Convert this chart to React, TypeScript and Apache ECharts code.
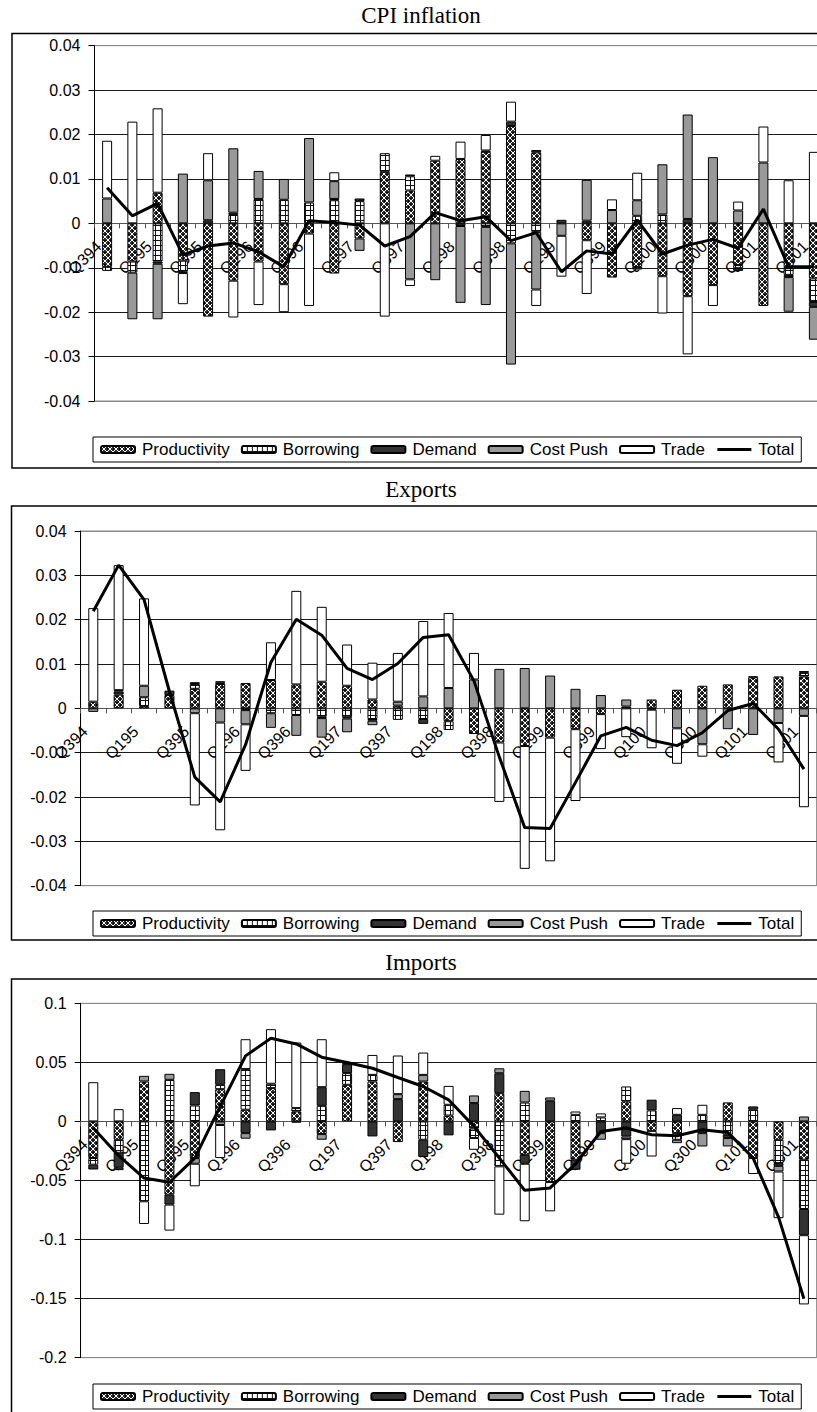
import React, { useEffect, useRef } from "react";
import * as echarts from "echarts";

const categories = [
  "Q394", "Q494", "Q195", "Q295", "Q395", "Q495", "Q196", "Q296", "Q396", "Q496",
  "Q197", "Q297", "Q397", "Q497", "Q198", "Q298", "Q398", "Q498", "Q199", "Q299",
  "Q399", "Q499", "Q100", "Q200", "Q300", "Q400", "Q101", "Q201", "Q301",
];
const componentNames = ["Productivity", "Borrowing", "Demand", "Cost Push", "Trade"];
const totalName = "Total";
const panelTitles = ["CPI inflation", "Exports", "Imports"];

// CPI inflation
const cpiProductivity = [-0.0098, -0.0086, 0.0069, -0.0084, -0.021, -0.0129, -0.0086, -0.0137, -0.0023, -0.0113, -0.0034, 0.0116, 0.0074, 0.0141, 0.0145, 0.0161, 0.0219, 0.016, 0, -0.0038, -0.0122, -0.0098, -0.0119, -0.0164, -0.0139, -0.0094, -0.0186, -0.0101, -0.0124];
const cpiBorrowing = [-0.0009, -0.0025, -0.0086, -0.0025, 0, 0.0019, 0.0055, 0.0053, 0.0047, 0.0052, 0.005, 0.0042, 0.0032, 0, 0, -0.0008, -0.0045, -0.0019, 0, 0, 0, 0.0017, 0.002, 0, 0, -0.0007, 0, -0.0015, -0.0053];
const cpiDemand = [0, 0, -0.0005, -0.0003, 0.0007, 0.0005, 0, 0, 0, 0.0003, 0.0006, 0, 0.0004, 0, -0.0006, 0.0003, 0.001, 0.0005, 0.0008, 0.0006, 0, -0.0006, 0, 0.001, 0, -0.0006, 0, -0.0005, -0.0011];
const cpiCostPush = [0.0056, -0.0105, -0.0125, 0.0112, 0.009, 0.0145, 0.0063, 0.0047, 0.0145, 0.004, -0.0028, 0, -0.0126, -0.0128, -0.0173, -0.0176, -0.0273, -0.013, -0.0028, 0.0092, 0.003, 0.0035, 0.0113, 0.0235, 0.0149, 0.0029, 0.0137, -0.0078, -0.0074];
const cpiTrade = [0.013, 0.0229, 0.019, -0.007, 0.0061, -0.0083, -0.0098, -0.0063, -0.0163, 0.002, 0, -0.021, -0.0015, 0.0011, 0.0039, 0.0035, 0.0045, -0.0037, -0.0092, -0.0121, 0.0024, 0.0062, -0.0084, -0.0131, -0.0047, 0.002, 0.0081, 0.0097, 0.0161];
const cpiTotal = [0.008, 0.0017, 0.0045, -0.0071, -0.0051, -0.0044, -0.0064, -0.0098, 0.0006, 0.0002, -0.0004, -0.0051, -0.003, 0.0024, 0.0006, 0.0015, -0.0039, -0.0021, -0.0109, -0.0062, -0.0069, 0.0008, -0.0069, -0.0049, -0.0036, -0.0056, 0.0032, -0.0098, -0.0098];

// Exports
const exProductivity = [0.0015, 0.0031, 0.0005, 0.003, 0.0044, 0.0055, 0.0057, 0.0064, 0.0054, 0.006, 0.0051, 0.002, 0.0006, 0, -0.0029, -0.0058, -0.0077, -0.0085, -0.0066, -0.0047, -0.0013, 0, 0.002, 0.0042, 0.0051, 0.0054, 0.007, 0.0072, 0.0072];
const exBorrowing = [0, 0, 0.002, 0, 0.0011, 0.0003, 0, -0.0011, -0.0015, -0.0019, -0.002, -0.0024, -0.0026, -0.0024, -0.002, 0, 0, 0, 0, 0, 0, 0, 0, 0, 0, 0, 0, 0, 0.0008];
const exDemand = [0, 0.0007, 0, 0.001, 0.0004, 0.0003, -0.0004, 0, 0, -0.0003, -0.0003, -0.0004, 0, -0.0011, 0, 0, 0, 0, 0, 0, 0, 0.0004, -0.0003, 0, 0, 0, 0.0002, 0, 0.0004];
const exCostPush = [-0.0008, 0.0003, 0.0026, 0, -0.0011, -0.0032, -0.0032, -0.0033, -0.0047, -0.0044, -0.0031, -0.001, 0.0009, 0.0027, 0.0046, 0.0065, 0.0089, 0.0091, 0.0074, 0.0044, 0.003, 0.0016, 0, -0.0045, -0.0081, -0.0047, -0.006, -0.0033, -0.0017];
const exTrade = [0.0211, 0.0282, 0.0197, 0, -0.0208, -0.0243, -0.0105, 0.0085, 0.0211, 0.0169, 0.0093, 0.0083, 0.011, 0.017, 0.0169, 0.006, -0.0134, -0.0277, -0.0279, -0.0162, -0.0079, -0.0065, -0.0087, -0.008, -0.0028, 0, 0, -0.0089, -0.0206];
const exTotal = [0.0219, 0.0323, 0.0245, 0.0038, -0.0155, -0.0211, -0.0082, 0.0104, 0.0201, 0.0165, 0.009, 0.0065, 0.0101, 0.016, 0.0166, 0.0062, -0.011, -0.0269, -0.0271, -0.0167, -0.0062, -0.0043, -0.0072, -0.0084, -0.0055, -0.0005, 0.0011, -0.0047, -0.0137];

// Imports
const imProductivity = [-0.031, -0.0155, 0.0338, -0.062, -0.031, 0.0273, 0.0099, 0.0282, 0.0085, -0.0107, 0.031, 0.0338, -0.0175, 0.0338, 0.005, -0.006, 0.0239, -0.0282, -0.0513, -0.0324, 0, 0.0169, -0.008, -0.0099, 0, 0.0161, -0.031, -0.0155, -0.0324];
const imBorrowing = [-0.0056, -0.011, -0.0676, 0.0352, 0.0135, 0.0037, 0.0344, 0.0037, 0.0028, 0.0132, 0.0099, 0.0056, 0, -0.0155, 0.0091, -0.008, -0.038, 0.016, 0, 0.0056, 0.0034, 0.0127, 0.0093, -0.0056, 0.0056, -0.0113, 0.0099, -0.0198, -0.0417];
const imDemand = [-0.0041, -0.0127, 0, -0.0084, 0.0113, 0.0132, -0.0099, -0.0076, -0.001, 0.0158, 0.0076, -0.0127, 0.0189, -0.0146, -0.0118, 0.0155, 0.0169, -0.0076, 0.0175, -0.0085, -0.0099, -0.0127, 0.0091, 0.0056, -0.0099, -0.0028, 0.0028, -0.0023, -0.0222];
const imCostPush = [0, -0.002, 0.0048, 0.0051, -0.0048, -0.003, -0.0047, 0, 0, -0.0048, 0.0014, 0, 0.0042, 0.0056, 0, 0.0065, 0.0042, 0.0099, 0.0028, 0, -0.0056, -0.0023, 0, -0.0029, -0.0113, -0.0071, 0, -0.0048, 0.0042];
const imTrade = [0.0332, 0.0104, -0.0192, -0.022, -0.0191, -0.028, 0.0253, 0.0462, 0.0555, 0.0406, 0, 0.0169, 0.0327, 0.0189, 0.016, -0.01, -0.0409, -0.0487, -0.0248, 0.0028, 0.0034, -0.0208, -0.0217, 0.0057, 0.0085, 0, -0.0135, -0.0395, -0.0586];
const imTotal = [-0.0056, -0.029, -0.0479, -0.0515, -0.031, 0.0127, 0.0555, 0.0704, 0.0656, 0.0544, 0.0499, 0.045, 0.0372, 0.0296, 0.0183, -0.0042, -0.031, -0.0583, -0.0563, -0.036, -0.0085, -0.0056, -0.0113, -0.0121, -0.007, -0.0093, -0.031, -0.081, -0.1501];

const yRanges = [
  { min: -0.04, max: 0.04, interval: 0.01 },
  { min: -0.04, max: 0.04, interval: 0.01 },
  { min: -0.2, max: 0.1, interval: 0.05 },
];

const SANS = "'Liberation Sans', Arial, sans-serif";
const SERIF = "'Liberation Serif', 'Times New Roman', serif";

function productivityPattern() {
  const c = document.createElement("canvas");
  c.width = 6;
  c.height = 6;
  const ctx = c.getContext("2d")!;
  ctx.fillStyle = "#2a2a2a";
  ctx.fillRect(0, 0, 6, 6);
  ctx.fillStyle = "#ffffff";
  for (let i = 0; i < 6; i++) {
    ctx.fillRect(i, i, 1, 1);
    ctx.fillRect(5 - i, i, 1, 1);
  }
  ctx.fillStyle = "#000000";
  ctx.fillRect(2, 0, 2, 1);
  ctx.fillRect(0, 2, 1, 2);
  return c;
}

function borrowingPattern() {
  const c = document.createElement("canvas");
  c.width = 5;
  c.height = 5;
  const ctx = c.getContext("2d")!;
  ctx.fillStyle = "#ffffff";
  ctx.fillRect(0, 0, 5, 5);
  ctx.fillStyle = "#111111";
  ctx.fillRect(0, 0, 5, 1);
  ctx.fillRect(0, 0, 1, 5);
  return c;
}

export default function App() {
  const ref = useRef<HTMLDivElement>(null);

  useEffect(() => {
    const el = ref.current;
    if (!el) return;
    const chart = echarts.init(el, null, { renderer: "svg" });

    const fills: any[] = [
      { image: productivityPattern(), repeat: "repeat" },
      { image: borrowingPattern(), repeat: "repeat" },
      "#333333",
      "#999999",
      "#ffffff",
    ];

    const panelData = [
      { comps: [cpiProductivity, cpiBorrowing, cpiDemand, cpiCostPush, cpiTrade], total: cpiTotal },
      { comps: [exProductivity, exBorrowing, exDemand, exCostPush, exTrade], total: exTotal },
      { comps: [imProductivity, imBorrowing, imDemand, imCostPush, imTrade], total: imTotal },
    ];

    const layout = [
      { grid: { left: 94.5, top: 45.7, width: 732, height: 355.3 }, box: { x: 12, y: 33.5, width: 830, height: 434.5 }, titleY: 15, legendTop: 437 },
      { grid: { left: 80.6, top: 531, width: 736, height: 354.7 }, box: { x: 11.5, y: 506, width: 830, height: 434 }, titleY: 489, legendTop: 911 },
      { grid: { left: 80.6, top: 1003.3, width: 736, height: 354.4 }, box: { x: 11.5, y: 979, width: 830, height: 450 }, titleY: 962, legendTop: 1384 },
    ];

    const series: any[] = [];
    panelData.forEach((p, gi) => {
      p.comps.forEach((data, k) => {
        series.push({
          name: componentNames[k],
          type: "bar",
          xAxisIndex: gi,
          yAxisIndex: gi,
          stack: "stack" + gi,
          barWidth: 10,
          data: data.map((v) => (v === 0 ? "-" : v)),
          itemStyle: { color: fills[k], borderColor: "#000", borderWidth: 1 },
          emphasis: { disabled: true },
          z: 2,
        });
      });
      series.push({
        name: totalName,
        type: "line",
        xAxisIndex: gi,
        yAxisIndex: gi,
        data: p.total,
        symbol: "none",
        showSymbol: false,
        lineStyle: { color: "#000", width: 3 },
        itemStyle: { color: "#000" },
        emphasis: { disabled: true },
        z: 5,
      });
    });

    const fmt = (v: number) => {
      const r = Number(v.toFixed(2));
      return r === 0 ? "0" : String(r);
    };

    const option: any = {
      animation: false,
      backgroundColor: "#ffffff",
      grid: layout.map((l) => ({
        ...l.grid,
        show: true,
        borderColor: "#8a8a8a",
        borderWidth: 1,
        backgroundColor: "transparent",
      })),
      xAxis: layout.map((l, i) => {
        const r = yRanges[i];
        // place the category axis (line, ticks and labels) at the value 0 of the y axis
        const zeroFromBottom = (l.grid.height * (0 - r.min)) / (r.max - r.min);
        return {
          type: "category",
          gridIndex: i,
          data: categories,
          position: "bottom",
          offset: -zeroFromBottom,
          axisLine: { show: true, onZero: false, lineStyle: { color: "#555", width: 1 } },
          axisTick: { show: true, interval: 0, length: 5, lineStyle: { color: "#555" } },
          axisLabel: {
            interval: 1,
            rotate: 45,
            fontSize: 16,
            fontFamily: SANS,
            color: "#000",
            margin: 12,
            padding: [0, 12, 0, 0],
          },
          splitLine: { show: false },
        };
      }),
      yAxis: yRanges.map((r, i) => {
        const n = Math.round((r.max - r.min) / r.interval);
        const colors: string[] = [];
        for (let j = 0; j <= n; j++) colors.push(j === 0 || j === n ? "#8a8a8a" : "#1a1a1a");
        return {
          type: "value",
          gridIndex: i,
          min: r.min,
          max: r.max,
          interval: r.interval,
          axisLine: { show: true, onZero: false, lineStyle: { color: "#000", width: 1 } },
          axisTick: { show: true, length: 6, lineStyle: { color: "#000" } },
          axisLabel: { fontSize: 16, fontFamily: SANS, color: "#000", margin: 14, formatter: fmt },
          splitLine: { show: true, lineStyle: { color: colors, width: 1 } },
        };
      }),
      legend: layout.map((l) => ({
        left: 93,
        top: l.legendTop,
        orient: "horizontal",
        itemWidth: 34,
        itemHeight: 7,
        itemGap: 11,
        padding: [4, 7, 4, 7],
        borderColor: "#000",
        borderWidth: 1,
        selectedMode: false,
        textStyle: { fontSize: 17, fontFamily: SANS, color: "#000", padding: [0, 0, 0, 2] },
        data: [
          ...componentNames,
          {
            name: totalName,
            itemStyle: { color: "rgba(0,0,0,0)", borderColor: "rgba(0,0,0,0)", borderWidth: 0, opacity: 0 },
            lineStyle: { color: "#000", width: 3 },
          },
        ],
      })),
      graphic: [
        ...layout.map((l) => ({
          type: "rect",
          z: -10,
          silent: true,
          shape: { x: l.box.x, y: l.box.y, width: l.box.width, height: l.box.height },
          style: { fill: "none", stroke: "#000", lineWidth: 1.5 },
        })),
        ...layout.map((l, i) => ({
          type: "text",
          x: 421,
          y: l.titleY,
          silent: true,
          style: {
            text: panelTitles[i],
            font: "23px " + SERIF,
            fontSize: 23,
            fontFamily: SERIF,
            fill: "#000",
            align: "center",
            verticalAlign: "middle",
            textAlign: "center",
            textVerticalAlign: "middle",
          },
        })),
      ],
      series,
    };

    chart.setOption(option);
    return () => chart.dispose();
  }, []);

  return (
    <div
      style={{
        position: "fixed",
        left: 0,
        top: 0,
        width: 817,
        height: 1412,
        overflow: "hidden",
        background: "#fff",
      }}
    >
      <div ref={ref} style={{ width: 860, height: 1412 }} />
    </div>
  );
}
